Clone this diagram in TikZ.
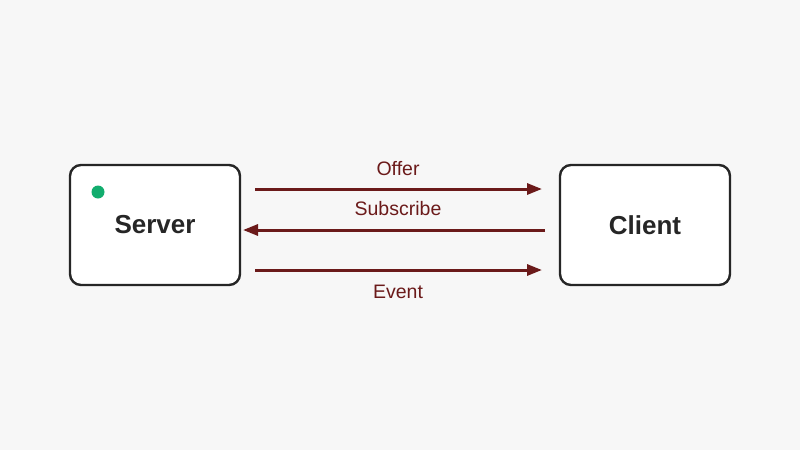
\documentclass[tikz,border=0pt]{standalone}
\usepackage{fontspec}
\setmainfont{Liberation Sans}
\usetikzlibrary{arrows.meta}
\definecolor{bg}{HTML}{F7F7F7}
\definecolor{arr}{HTML}{6B1A1A}
\definecolor{dot}{HTML}{12AD6E}
\begin{document}
\begin{tikzpicture}[x=1pt,y=-1pt,
  box/.style={draw=black!85,line width=2.4pt,rounded corners=11pt,fill=white,minimum width=170pt,minimum height=120pt,font=\fontsize{26}{30}\selectfont\bfseries,text=black!85},
  con/.style={draw=arr,line width=3pt,-{Triangle[length=15pt,width=11pt]}},
  lbl/.style={text=arr,font=\fontsize{19.5}{23}\selectfont}]
\fill[bg] (0,0) rectangle (800,450);
\useasboundingbox (0,0) rectangle (800,450);
\node[box] (server) at (155,225) {Server};
\node[box] (client) at (645,225) {Client};
\fill[dot] (98,192) circle (6.5);
\coordinate (a1) at (255,189); \coordinate (b1) at (542,189);
\coordinate (a2) at (545,230); \coordinate (b2) at (243,230);
\coordinate (a3) at (255,270); \coordinate (b3) at (542,270);
\draw[con] (a1) -- (b1);
\draw[con] (a2) -- (b2);
\draw[con] (a3) -- (b3);
\node[lbl] (l1) at (398,169) {Offer};
\node[lbl] (l2) at (398,209) {Subscribe};
\node[lbl] (l3) at (398,292) {Event};
\end{tikzpicture}
\end{document}
